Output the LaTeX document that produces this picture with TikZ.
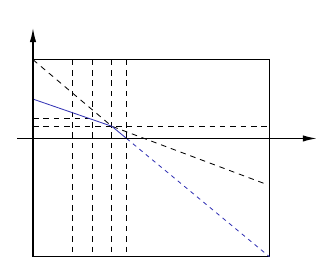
\documentclass[tikz,border=0pt]{standalone}
\usepackage{tikz}
\usetikzlibrary{arrows.meta}
\definecolor{budgetblue}{RGB}{51,51,180}

\begin{document}
\begin{tikzpicture}[x=0.5cm,y=0.5cm]
  \useasboundingbox (-1.675,-6.32) rectangle (14.57,7.03);
  \coordinate (kink) at (4,0.62);
  \coordinate (cross) at (4.75,0);
  \draw[line width=0.6pt] (0,-6) rectangle (12,4);
  \foreach \x in {2,3,4,4.75}{
    \draw[dash pattern=on 4pt off 3.5pt, line width=0.5pt] (\x,4) -- (\x,-6);
  }
  \draw[dash pattern=on 4pt off 3.5pt, line width=0.6pt] (0,1) -- (3,1);
  \draw[dash pattern=on 4pt off 3.5pt, line width=0.6pt] (0,0.62) -- (12,0.62);
  \draw[dash pattern=on 4pt off 3.5pt, line width=0.6pt] (0,4) -- (kink) -- (11.78,-2.3);
  \draw[budgetblue, line width=0.6pt] (0,2) -- (kink) -- (cross);
  \draw[budgetblue, dash pattern=on 3pt off 3pt, line width=0.6pt] (cross) -- (12,-6);
  \draw[-{Latex[length=10pt,width=4.6pt]}, line width=0.9pt] (-0.8,0) -- (14.4,0);
  \draw[-{Latex[length=10pt,width=4.6pt]}, line width=0.9pt] (0,-6) -- (0,5.6);
\end{tikzpicture}
\end{document}
